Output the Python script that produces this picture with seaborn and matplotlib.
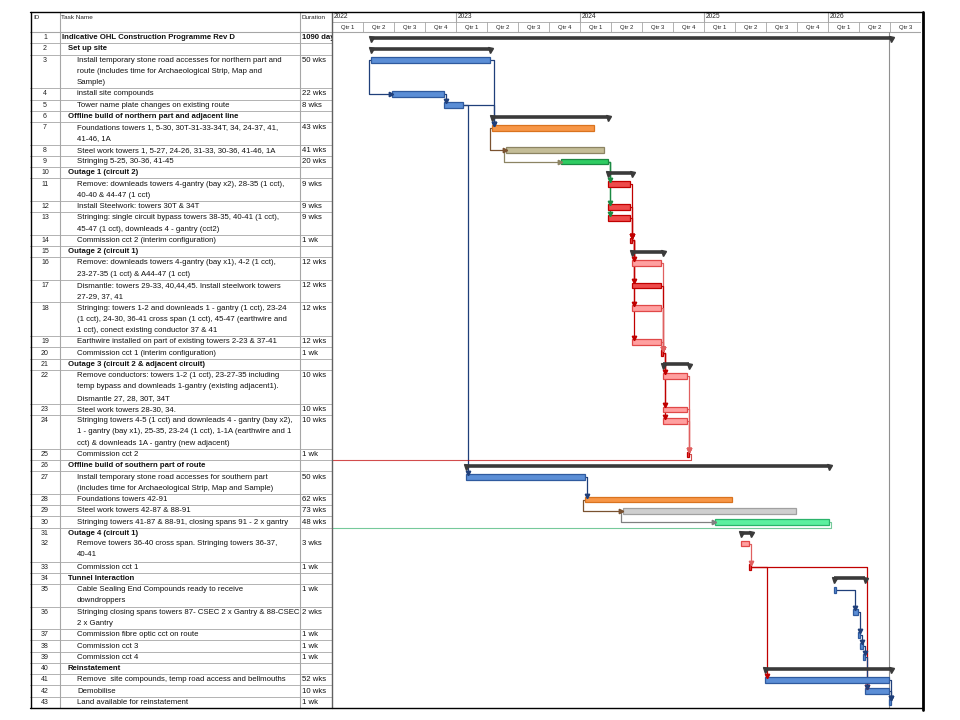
import numpy as np
import pandas as pd
import matplotlib
matplotlib.use('Agg')
import matplotlib.pyplot as plt
import seaborn as sns
from matplotlib import font_manager

# ---- data read from the programme ----
task_ids = list(range(1, 44))
task_names = [
    'Indicative OHL Construction Programme Rev D',
    'Set up site',
    'Install temporary stone road accesses for northern part and\nroute (includes time for Archaeological Strip, Map and\nSample)',
    'install site compounds',
    'Tower name plate changes on existing route',
    'Offline build of northern part and adjacent line',
    'Foundations towers 1, 5-30, 30T-31-33-34T, 34, 24-37, 41,\n41-46, 1A',
    'Steel work towers 1, 5-27, 24-26, 31-33, 30-36, 41-46, 1A',
    'Stringing 5-25, 30-36, 41-45',
    'Outage 1 (circuit 2)',
    'Remove: downleads towers 4-gantry (bay x2), 28-35 (1 cct),\n40-40 & 44-47 (1 cct)',
    'Install Steelwork: towers 30T & 34T',
    'Stringing: single circuit bypass towers 38-35, 40-41 (1 cct),\n45-47 (1 cct), downleads 4 - gantry (cct2)',
    'Commission cct 2 (interim configuration)',
    'Outage 2 (circuit 1)',
    'Remove: downleads towers 4-gantry (bay x1), 4-2 (1 cct),\n23-27-35 (1 cct) & A44-47 (1 cct)',
    'Dismantle: towers 29-33, 40,44,45. Install steelwork towers\n27-29, 37, 41',
    'Stringing: towers 1-2 and downleads 1 - gantry (1 cct), 23-24\n(1 cct), 24-30, 36-41 cross span (1 cct), 45-47 (earthwire and\n1 cct), conect existing conductor 37 & 41',
    'Earthwire installed on part of existing towers 2-23 & 37-41',
    'Commission cct 1 (interim configuration)',
    'Outage 3 (circuit 2 & adjacent circuit)',
    'Remove conductors: towers 1-2 (1 cct), 23-27-35 including\ntemp bypass and downleads 1-gantry (existing adjacent1).\nDismantle 27, 28, 30T, 34T',
    'Steel work towers 28-30, 34.',
    'Stringing towers 4-5 (1 cct) and downleads 4 - gantry (bay x2),\n1 - gantry (bay x1), 25-35, 23-24 (1 cct), 1-1A (earthwire and 1\ncct) & downleads 1A - gantry (new adjacent)',
    'Commission cct 2',
    'Offline build of southern part of route',
    'Install temporary stone road accesses for southern part\n(includes time for Archaeological Strip, Map and Sample)',
    'Foundations towers 42-91',
    'Steel work towers 42-87 & 88-91',
    'Stringing towers 41-87 & 88-91, closing spans 91 - 2 x gantry',
    'Outage 4 (circuit 1)',
    'Remove towers 36-40 cross span. Stringing towers 36-37,\n40-41',
    'Commission cct 1',
    'Tunnel Interaction',
    'Cable Sealing End Compounds ready to receive\ndowndroppers',
    'Stringing closing spans towers 87- CSEC 2 x Gantry & 88-CSEC\n2 x Gantry',
    'Commission fibre optic cct on route',
    'Commission cct 3',
    'Commission cct 4',
    'Reinstatement',
    'Remove  site compounds, temp road access and bellmouths',
    'Demobilise',
    'Land available for reinstatement',
]
durations = ['1090 days', '', '50 wks', '22 wks', '8 wks', '', '43 wks', '41 wks', '20 wks', '',
             '9 wks', '9 wks', '9 wks', '1 wk', '', '12 wks', '12 wks', '12 wks', '12 wks', '1 wk',
             '', '10 wks', '10 wks', '10 wks', '1 wk', '', '50 wks', '62 wks', '73 wks', '48 wks',
             '', '3 wks', '1 wk', '', '1 wk', '2 wks', '1 wk', '1 wk', '1 wk', '',
             '52 wks', '10 wks', '1 wk']
starts = ['2022-04-25', '2022-04-25', '2022-04-25', '2022-06-27', '2022-11-28',
          '2023-04-17', '2023-04-17', '2023-05-29', '2023-11-06',
          '2024-03-25', '2024-03-25', '2024-03-25', '2024-03-25', '2024-05-27',
          '2024-06-03', '2024-06-03', '2024-06-03', '2024-06-03', '2024-06-03', '2024-08-26',
          '2024-09-02', '2024-09-02', '2024-09-02', '2024-09-02', '2024-11-11',
          '2023-01-30', '2023-01-30', '2024-01-15', '2024-05-06', '2025-02-03',
          '2025-04-21', '2025-04-21', '2025-05-12',
          '2026-01-19', '2026-01-19', '2026-03-16', '2026-03-30', '2026-04-06', '2026-04-13',
          '2025-06-30', '2025-06-30', '2026-04-20', '2026-06-29']
finishes = ['2026-07-06', '2023-04-10', '2023-04-10', '2022-11-28', '2023-01-23',
            '2024-03-25', '2024-02-12', '2024-03-11', '2024-03-25',
            '2024-06-03', '2024-05-27', '2024-05-27', '2024-05-27', '2024-06-03',
            '2024-09-02', '2024-08-26', '2024-08-26', '2024-08-26', '2024-08-26', '2024-09-02',
            '2024-11-18', '2024-11-11', '2024-11-11', '2024-11-11', '2024-11-18',
            '2026-01-05', '2024-01-15', '2025-03-24', '2025-09-29', '2026-01-05',
            '2025-05-19', '2025-05-12', '2025-05-19',
            '2026-04-20', '2026-01-26', '2026-03-30', '2026-04-06', '2026-04-13', '2026-04-20',
            '2026-07-06', '2026-06-29', '2026-06-29', '2026-07-06']
summary_ids = [1, 2, 6, 10, 15, 21, 26, 31, 34, 40]
deadline = '2026-07-01'
years = [2022, 2023, 2024, 2025, 2026]

# predecessor, successor, link type
links = [(3, 4, 'SS'), (4, 5, 'FS'), (5, 7, 'FS'), (3, 7, 'FS'), (5, 27, 'FS'),
         (7, 8, 'SS'), (8, 9, 'SS'), (9, 11, 'FS'), (9, 12, 'FS'), (9, 13, 'FS'),
         (11, 14, 'FS'), (12, 14, 'FS'), (13, 14, 'FS'),
         (14, 16, 'FS'), (14, 17, 'FS'), (14, 18, 'FS'), (14, 19, 'FS'),
         (16, 20, 'FS'), (17, 20, 'FS'), (18, 20, 'FS'), (19, 20, 'FS'),
         (20, 22, 'FS'), (20, 23, 'FS'), (20, 24, 'FS'),
         (22, 25, 'FS'), (23, 25, 'FS'), (24, 25, 'FS'), (25, None, 'OUT'),
         (27, 28, 'FS'), (28, 29, 'SS'), (29, 30, 'SS'), (30, None, 'OUT'),
         (32, 33, 'FS'), (33, 41, 'FS'), (33, 42, 'FS'),
         (35, 36, 'FS'), (36, 37, 'FS'), (37, 38, 'FS'), (38, 39, 'FS'), (39, 42, 'FS'),
         (41, 43, 'FS'), (42, 43, 'FS')]

# ---- styling ----
bar_colour = {3: 'blue', 4: 'blue', 5: 'blue', 7: 'orange', 8: 'khaki', 9: 'green',
              11: 'red', 12: 'red', 13: 'red', 14: 'red', 16: 'pink', 17: 'red', 18: 'pink',
              19: 'pink', 20: 'red', 22: 'pink', 23: 'pink', 24: 'pink', 25: 'red',
              27: 'blue', 28: 'orange', 29: 'grey', 30: 'mint', 32: 'pink', 33: 'red',
              35: 'blue', 36: 'blue', 37: 'blue', 38: 'blue', 39: 'blue',
              41: 'blue', 42: 'blue', 43: 'blue'}
palette = {'blue': ('#5b8ed6', '#2f5a9e', '#1f3f7a'),
           'orange': ('#f79646', '#d9731f', '#7a5230'),
           'khaki': ('#c4bd97', '#8c8463', '#8c8463'),
           'green': ('#2ecc62', '#1b8a43', '#1b8a43'),
           'mint': ('#5df0a0', '#2bb36b', '#3cb371'),
           'red': ('#ee4b4b', '#c00000', '#c00000'),
           'pink': ('#ffa0a0', '#e04848', '#e06060'),
           'grey': ('#cfcfcf', '#a0a0a0', '#808080')}

sns.set_theme(style='white')
names = {f.name for f in font_manager.fontManager.ttflist}
if 'Liberation Sans Narrow' in names:
    plt.rcParams['font.family'] = ['Liberation Sans Narrow', 'DejaVu Sans']
    fs = 6.5
else:
    plt.rcParams['font.family'] = ['Liberation Sans', 'DejaVu Sans']
    fs = 5.6


def to_year(s):
    d = pd.to_datetime(pd.Series(s))
    return (d.dt.year + (d.dt.dayofyear - 1) / (365 + d.dt.is_leap_year)).to_numpy()


x0 = to_year(starts)
x1 = to_year(finishes)

# row geometry in "text line" units
row_h = np.array([n.count('\n') + 1 for n in task_names], dtype=float)
row_h[30], row_h[31] = 0.9, 2.1   # rows 31/32 share a cell
tops = np.concatenate([[0], np.cumsum(row_h)[:-1]])
total = row_h.sum()
bar_y = tops + np.minimum(row_h, 1) * 0.5
hdr = total * 20 / 676

W, H = 960, 720
fig = plt.figure(figsize=(9.6, 7.2), dpi=100)


def frac(a, b, c, d):
    return [a / W, 1 - d / H, (c - a) / W, (d - b) / H]


ax_t = fig.add_axes(frac(30, 12, 332, 708))
ax_g = fig.add_axes(frac(332, 12, 921, 708))
for ax in (ax_t, ax_g):
    ax.set_axis_off()
    ax.set_ylim(total, -hdr)
ax_t.set_xlim(30, 332)
ax_g.set_xlim(2022.0, 2026.75)

# ---- table ----
grid = '#a6a6a6'
ax_t.plot([30, 332], [0, 0], color=grid, lw=0.8)
for k, t in enumerate(tops[1:], start=1):
    if task_ids[k] == 32:
        continue
    ax_t.plot([30, 332], [t, t], color=grid, lw=0.6)
for xv in (60, 300):
    ax_t.plot([xv, xv], [-hdr, total], color=grid, lw=0.8)
ax_t.plot([30.5, 30.5], [-hdr, total], color='black', lw=1, clip_on=False)

hy = -hdr + 0.45
ax_t.text(33, hy, 'ID', fontsize=fs - 1, va='center', color='#222')
ax_t.text(61, hy, 'Task Name', fontsize=fs - 1, va='center', color='#222')
ax_t.text(301, hy, 'Duration', fontsize=fs - 1, va='center', color='#222', clip_on=True)

for k, tid in enumerate(task_ids):
    bold = tid in summary_ids
    indent = 62 if tid == 1 else (68 if bold else 77)
    ax_t.text(45, tops[k] + 0.5, str(tid), fontsize=fs - 0.6, ha='center', va='center', color='#222')
    for j, line in enumerate(task_names[k].split('\n')):
        ax_t.text(indent, tops[k] + 0.5 + j, line, fontsize=fs, va='center', color='#111',
                  fontweight='bold' if bold else 'normal')
    ax_t.text(302, tops[k] + 0.5, durations[k], fontsize=fs, va='center', color='#111',
              fontweight='bold' if tid == 1 else 'normal', clip_on=True)

# ---- timescale header ----
qw = 0.25
ax_g.plot([2022, 2026.75], [-hdr / 2, -hdr / 2], color=grid, lw=0.6)
ax_g.plot([2022, 2026.75], [0, 0], color=grid, lw=0.8)
for yr in years:
    ax_g.plot([yr, yr], [-hdr, -hdr / 2], color=grid, lw=0.8)
    ax_g.text(yr + 0.012, -hdr * 0.75, str(yr), fontsize=fs - 0.8, va='center', color='#222')
    for q in range(4):
        qs = yr + q * qw
        if qs >= 2026.75:
            break
        ax_g.plot([qs, qs], [-hdr / 2, 0], color=grid, lw=0.6)
        ax_g.text(qs + qw / 2, -hdr / 4, f'Qtr {q + 1}', fontsize=fs - 1.3, ha='center',
                  va='center', color='#222')

# ---- gantt body ----
px = 4.75 / 589
ax_g.axvline(to_year([deadline])[0], ymin=0, ymax=total / (total + hdr), color='#909090', lw=0.8)

bh = 0.52
for k, tid in enumerate(task_ids):
    if tid in summary_ids:
        ax_g.plot([x0[k], x1[k]], [bar_y[k], bar_y[k]], color='#3a3a3a', lw=2.6,
                  solid_capstyle='butt', zorder=3)
        ax_g.plot([x0[k], x1[k]], [bar_y[k] + 0.12] * 2, ls='none', marker='v', ms=3.6,
                  color='#3a3a3a', zorder=3)
    else:
        fill, edge, _ = palette[bar_colour[tid]]
        ax_g.barh(bar_y[k], x1[k] - x0[k], left=x0[k], height=bh, color=fill,
                  edgecolor=edge, linewidth=0.9, zorder=3)

idx = {tid: k for k, tid in enumerate(task_ids)}
for p, s, kind in links:
    i = idx[p]
    lc = palette[bar_colour[p]][2]
    yp = bar_y[i]
    if kind == 'OUT':
        xs = [x1[i], x1[i] + 2 * px, x1[i] + 2 * px, 2022.0]
        ys = [yp, yp, tops[i] + row_h[i], tops[i] + row_h[i]]
        ax_g.plot(xs, ys, color=lc, lw=0.8, alpha=0.7, zorder=2)
        continue
    j = idx[s]
    ys_ = bar_y[j]
    if kind == 'SS':
        xv = x0[i] - 2 * px
        xs = [x0[i], xv, xv, x0[j]]
        ys = [yp, yp, ys_, ys_]
        mk, end = '>', (x0[j] - 1.2 * px, ys_)
    else:
        xv = max(x0[j], x1[i]) + 2 * px
        xs = [x1[i], xv, xv]
        ys = [yp, yp, ys_ - bh / 2]
        mk, end = 'v', (xv, ys_ - bh / 2 - 0.1)
    ax_g.plot(xs, ys, color=lc, lw=0.9, zorder=2)
    ax_g.plot(*end, marker=mk, ms=3.2, color=lc, zorder=4)

# outer frame
fig.add_artist(plt.Line2D([332 / W, 332 / W], [1 - 12 / H, 1 - 708 / H], color='#606060', lw=1))
fig.add_artist(plt.Line2D([30 / W, 923 / W], [1 - 708 / H, 1 - 708 / H], color='black', lw=1))
fig.add_artist(plt.Line2D([30 / W, 923 / W], [1 - 12 / H, 1 - 12 / H], color='black', lw=1))
fig.add_artist(plt.Line2D([923 / W, 923 / W], [1 - 12 / H, 1 - 710 / H], color='black', lw=2))

fig.savefig('out.png', dpi=100, facecolor='white')
